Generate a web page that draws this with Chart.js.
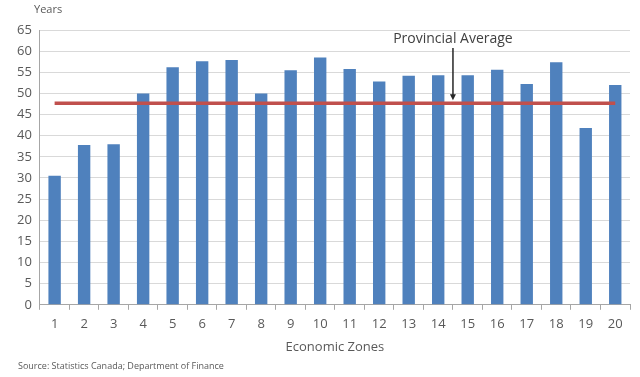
<!DOCTYPE html>
<html>
<head>
<meta charset="utf-8">
<script src="https://cdn.jsdelivr.net/npm/chart.js@4/dist/chart.umd.min.js"></script>
<style>
  html, body { margin: 0; padding: 0; background: #fff; }
  canvas { display: block; }
</style>
</head>
<body>
<canvas id="myChart" width="640" height="377"></canvas>
<script>
var zones = ['1','2','3','4','5','6','7','8','9','10','11','12','13','14','15','16','17','18','19','20'];
var medianAge = [30.5, 37.8, 38.0, 50.0, 56.2, 57.6, 57.9, 50.0, 55.5, 58.5, 55.8, 52.8, 54.2, 54.3, 54.3, 55.6, 52.2, 57.4, 41.8, 52.0];
var provincialAvg = 47.7;
var avgLine = zones.map(function () { return provincialAvg; });
var yMin = 0, yMax = 65, yStep = 5;

var textColor = '#595959';
var fontName = "'Open Sans', 'Liberation Sans', sans-serif";

// Extra texts: Years, source, the arrow label
var extras = {
    id: 'extras',
    afterDraw: function (chart) {
        const ctx = chart.ctx;
        const x = chart.scales.x;
        const y = chart.scales.y;
        ctx.save();
        ctx.fillStyle = textColor;
        ctx.textBaseline = 'middle';
        ctx.font = '11px ' + fontName;
        ctx.textAlign = 'left';
        ctx.fillText('Years', 34, 10);
        ctx.font = '9px ' + fontName;
        ctx.fillText('Source: Statistics Canada; Department of Finance', 18, 366);

        // arrow between zone 14 and 15
        const ax = (x.getPixelForValue(13) + x.getPixelForValue(14)) / 2;
        const ay = y.getPixelForValue(provincialAvg) - 3;
        ctx.font = '14px ' + fontName;
        ctx.textAlign = 'center';
        ctx.fillStyle = '#404040';
        ctx.fillText('Provincial Average', ax, 39);
        ctx.strokeStyle = '#262626';
        ctx.lineWidth = 1.5;
        ctx.beginPath();
        ctx.moveTo(ax, 48);
        ctx.lineTo(ax, ay - 4);
        ctx.stroke();
        ctx.fillStyle = '#262626';
        ctx.beginPath();
        ctx.moveTo(ax - 3, ay - 6);
        ctx.lineTo(ax + 3, ay - 6);
        ctx.lineTo(ax, ay);
        ctx.closePath();
        ctx.fill();
        ctx.restore();
    }
};

function createChart() {
    const ctx = document.getElementById('myChart').getContext('2d');
    const myChart = new Chart(ctx, {
        type: 'bar',
        data: {
            labels: zones,
            datasets: [{
                type: 'line',
                label: 'Provincial Average',
                data: avgLine,
                borderColor: '#C0504D',
                borderWidth: 3.5,
                pointRadius: 0,
                fill: false
            }, {
                label: 'Median Age',
                data: medianAge,
                backgroundColor: '#4F81BD',
                categoryPercentage: 1.0,
                barPercentage: 0.42
            }]
        },
        options: {
            responsive: false,
            animation: false,
            layout: { padding: { top: 30, bottom: 18, left: 9, right: 10 } },
            plugins: {
                legend: { display: false },
                tooltip: { enabled: false }
            },
            scales: {
                x: {
                    border: { color: '#A6A6A6' },
                    grid: { drawOnChartArea: false, drawTicks: true, tickLength: 5, offset: true, color: '#A6A6A6' },
                    ticks: { color: textColor, font: { family: fontName, size: 13 }, padding: 7 },
                    title: {
                        display: true,
                        text: 'Economic Zones',
                        color: textColor,
                        font: { family: fontName, size: 13 },
                        padding: { top: 0 }
                    }
                },
                y: {
                    min: yMin,
                    max: yMax,
                    border: { color: '#A6A6A6' },
                    grid: { color: '#D9D9D9', drawTicks: false },
                    ticks: {
                        stepSize: yStep,
                        color: textColor,
                        font: { family: fontName, size: 13 },
                        padding: 8,
                        callback: function (v) { return String(v); }
                    }
                }
            }
        },
        plugins: [extras]
    });
}

createChart();
</script>
</body>
</html>
